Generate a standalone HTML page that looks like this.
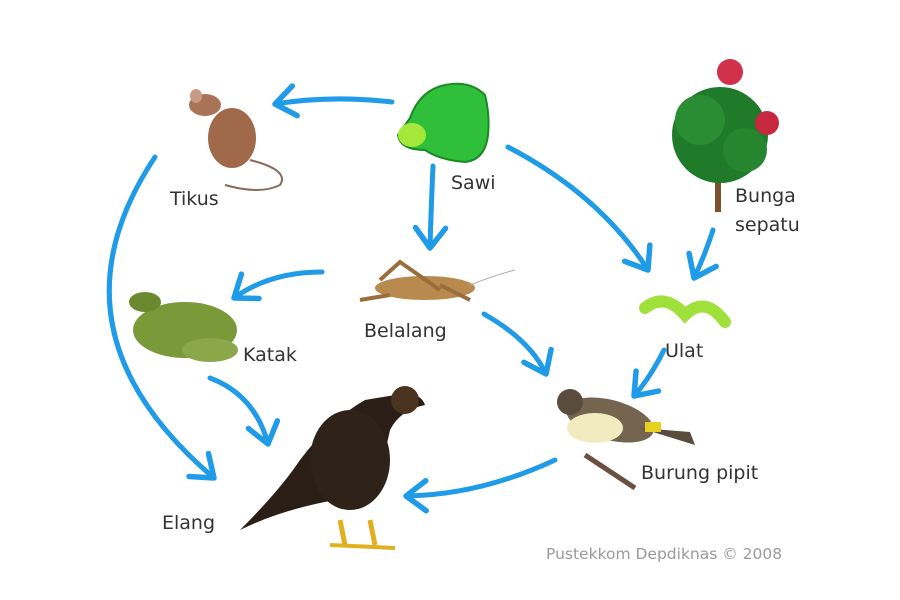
<!DOCTYPE html>
<html><head><meta charset="utf-8"><style>
html,body{margin:0;padding:0;background:#fff;}
svg{display:block}
text{font-family:"DejaVu Sans","Liberation Sans",sans-serif;font-size:19px;fill:#333}
</style></head><body>
<svg width="900" height="600" viewBox="0 0 900 600">
<defs>
<marker id="a" markerWidth="8" markerHeight="8" refX="5" refY="4" orient="auto" markerUnits="strokeWidth">
<path d="M1,1 L5,4 L1,7" fill="none" stroke="#1f9be8" stroke-width="1.1" stroke-linecap="round" stroke-linejoin="round"/>
</marker>
</defs>
<g fill="none" stroke="#1f9be8" stroke-width="5" stroke-linecap="round" marker-end="url(#a)">
<path d="M392,102 Q330,95 275,104"/>
<path d="M433,166 Q431,210 430,248"/>
<path d="M508,147 Q600,195 648,270"/>
<path d="M713,230 Q705,255 694,278"/>
<path d="M155,157 Q40,330 214,478"/>
<path d="M322,272 Q270,272 234,298"/>
<path d="M210,378 Q255,395 268,444"/>
<path d="M484,314 Q530,340 546,374"/>
<path d="M664,350 Q650,378 634,396"/>
<path d="M555,460 Q480,495 406,496"/>
</g>
<g>
<ellipse cx="232" cy="138" rx="24" ry="30" fill="#a0694a"/>
<ellipse cx="205" cy="105" rx="16" ry="11" fill="#a87356"/>
<ellipse cx="196" cy="96" rx="6" ry="7" fill="#c79a86"/>
<path d="M250,160 Q290,170 280,185 Q260,195 225,185" fill="none" stroke="#8a6a5a" stroke-width="2"/>
</g>
<g>
<path d="M410,118 Q420,90 445,85 Q470,80 485,95 Q490,115 488,135 Q485,160 465,162 Q440,160 425,150 Q400,150 398,135 Z" fill="#2fbf3a" stroke="#1a8a25" stroke-width="2"/>
<ellipse cx="412" cy="135" rx="14" ry="12" fill="#a3e83a"/>
</g>
<g>
<rect x="715" y="170" width="6" height="42" fill="#7a5230"/>
<circle cx="720" cy="135" r="48" fill="#1f7a2a"/>
<circle cx="700" cy="120" r="25" fill="#2a8c33"/>
<circle cx="745" cy="150" r="22" fill="#26852f"/>
<circle cx="730" cy="72" r="13" fill="#d0304a"/>
<circle cx="767" cy="123" r="12" fill="#c8283f"/>
</g>
<g>
<ellipse cx="425" cy="288" rx="50" ry="12" fill="#b88a50"/>
<path d="M380,280 L400,262 L440,290 M440,285 L470,300 M360,300 L390,295" stroke="#9a6e3a" stroke-width="4" fill="none"/>
<path d="M470,285 Q495,275 515,270" stroke="#aaa" stroke-width="1" fill="none"/>
</g>
<g>
<ellipse cx="185" cy="330" rx="52" ry="28" fill="#7a9a3a"/>
<ellipse cx="145" cy="302" rx="16" ry="10" fill="#6b8a30"/>
<ellipse cx="210" cy="350" rx="28" ry="12" fill="#8aa84a"/>
</g>
<path d="M645,308 Q665,292 685,315 Q705,295 725,322" fill="none" stroke="#9fe03a" stroke-width="12" stroke-linecap="round"/>
<g>
<ellipse cx="610" cy="420" rx="45" ry="20" fill="#756550" transform="rotate(15 610 420)"/>
<ellipse cx="595" cy="428" rx="28" ry="15" fill="#f0ecc0"/>
<circle cx="570" cy="402" r="13" fill="#5a4c3c"/>
<path d="M640,428 L695,445 L690,432 Z" fill="#5a4c3c"/>
<rect x="645" y="422" width="16" height="10" fill="#e8d020"/>
<path d="M585,455 L635,488" stroke="#6a5040" stroke-width="5"/>
</g>
<g>
<path d="M395,395 Q420,390 425,405 Q400,410 390,430 Q380,480 360,495 L335,500 Q280,510 240,530 Q280,490 300,460 Q330,420 365,400 Z" fill="#2a1e16"/>
<ellipse cx="350" cy="460" rx="40" ry="50" fill="#2e2219"/>
<circle cx="405" cy="400" r="14" fill="#4a3420"/>
<path d="M340,520 L345,545 M370,520 L375,545" stroke="#e0b020" stroke-width="5"/>
<path d="M330,545 L395,548" stroke="#e0b020" stroke-width="4"/>
</g>
<text x="170" y="205">Tikus</text>
<text x="451" y="189">Sawi</text>
<text x="735" y="202">Bunga</text>
<text x="735" y="231">sepatu</text>
<text x="364" y="337">Belalang</text>
<text x="243" y="361">Katak</text>
<text x="665" y="357">Ulat</text>
<text x="641" y="479">Burung pipit</text>
<text x="162" y="529">Elang</text>
<text x="546" y="559" style="font-size:15.5px;fill:#9a9a9a">Pustekkom Depdiknas © 2008</text>
</svg>
</body></html>
